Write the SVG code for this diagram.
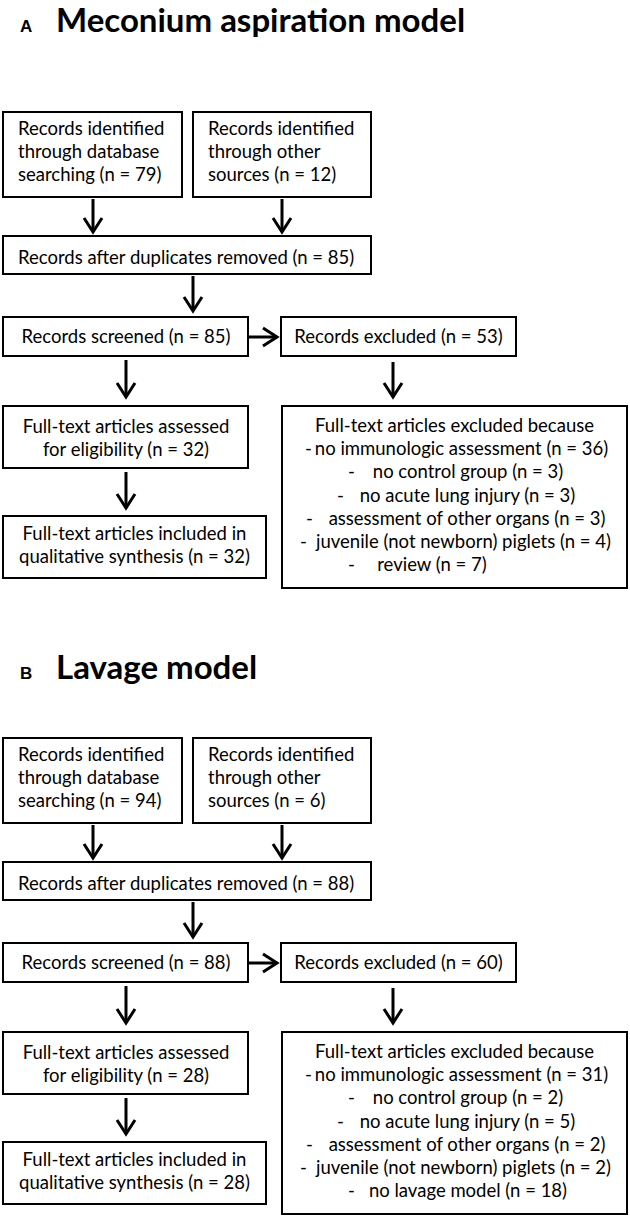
<svg xmlns="http://www.w3.org/2000/svg" width="630" height="1217" viewBox="0 0 630 1217">
<style>
.bg{fill:#ffffff}
.box{fill:#ffffff;stroke:#000;stroke-width:2}
.t{font-family:Lato,"Open Sans",sans-serif;font-size:18.5px;fill:#000}
.m{text-anchor:middle}
.h{font-family:Lato,"Open Sans",sans-serif;font-size:33px;font-weight:bold;fill:#000}
.lab{font-family:"Liberation Sans",Arial,sans-serif;font-size:17px;font-weight:bold;fill:#000}
.arr{fill:none;stroke:#000;stroke-width:3;marker-end:url(#ah)}
</style>
<defs>
<marker id="ah" markerUnits="userSpaceOnUse" viewBox="0 0 22 22" markerWidth="22" markerHeight="22" refX="17" refY="11" orient="auto">
<path d="M3,2 L17,11 L3,20" fill="none" stroke="#000" stroke-width="3" stroke-linejoin="miter"/>
</marker>
</defs>
<rect class="bg" x="0" y="0" width="630" height="1217"/>

<g id="headingA">
<text class="lab" x="20" y="32">A</text>
<text class="h" x="56" y="32">Meconium aspiration model</text>
</g>

<g id="A_db">
<rect class="box" x="3" y="112" width="179" height="85"/>
<text class="t" x="18" y="135">Records identified</text>
<text class="t" x="18" y="158">through database</text>
<text class="t" x="18" y="181">searching (n = 79)</text>
</g>
<g id="A_other">
<rect class="box" x="193" y="112" width="178" height="85"/>
<text class="t" x="208" y="135">Records identified</text>
<text class="t" x="208" y="158">through other</text>
<text class="t" x="208" y="181">sources (n = 12)</text>
</g>
<g id="A_dup">
<rect class="box" x="3" y="236" width="368" height="38"/>
<text class="t" x="18" y="264">Records after duplicates removed (n = 85)</text>
</g>
<g id="A_screened">
<rect class="box" x="3" y="317" width="245" height="39"/>
<text class="t m" x="126" y="343">Records screened (n = 85)</text>
</g>
<g id="A_excluded">
<rect class="box" x="281" y="317" width="235" height="39"/>
<text class="t m" x="398.5" y="343">Records excluded (n = 53)</text>
</g>
<g id="A_assessed">
<rect class="box" x="3" y="406" width="245" height="62"/>
<text class="t m" x="126" y="433">Full-text articles assessed</text>
<text class="t m" x="126" y="456">for eligibility (n = 32)</text>
</g>
<g id="A_included">
<rect class="box" x="3" y="516" width="263" height="62"/>
<text class="t m" x="134.5" y="540">Full-text articles included in</text>
<text class="t m" x="134.5" y="563">qualitative synthesis (n = 32)</text>
</g>
<g id="A_ftexcluded">
<rect class="box" x="282" y="406" width="345" height="182"/>
<text class="t m" x="454.5" y="432">Full-text articles excluded because</text>
<text class="t" x="305" y="455">-</text><text class="t m" x="461.5" y="455">no immunologic assessment (n = 36)</text>
<text class="t" x="348" y="478">-</text><text class="t m" x="468" y="478">no control group (n = 3)</text>
<text class="t" x="337" y="502">-</text><text class="t m" x="467.5" y="502">no acute lung injury (n = 3)</text>
<text class="t" x="306" y="525">-</text><text class="t m" x="467" y="525">assessment of other organs (n = 3)</text>
<text class="t" x="300" y="548">-</text><text class="t m" x="463.5" y="548">juvenile (not newborn) piglets (n = 4)</text>
<text class="t" x="348" y="571">-</text><text class="t m" x="432" y="571">review (n = 7)</text>
</g>

<g id="headingB">
<text class="lab" x="20" y="679">B</text>
<text class="h" x="56" y="679">Lavage model</text>
</g>

<g id="B_db">
<rect class="box" x="3" y="738" width="179" height="85"/>
<text class="t" x="18" y="761">Records identified</text>
<text class="t" x="18" y="784">through database</text>
<text class="t" x="18" y="807">searching (n = 94)</text>
</g>
<g id="B_other">
<rect class="box" x="193" y="738" width="178" height="85"/>
<text class="t" x="208" y="761">Records identified</text>
<text class="t" x="208" y="784">through other</text>
<text class="t" x="208" y="807">sources (n = 6)</text>
</g>
<g id="B_dup">
<rect class="box" x="3" y="862" width="368" height="38"/>
<text class="t" x="18" y="890">Records after duplicates removed (n = 88)</text>
</g>
<g id="B_screened">
<rect class="box" x="3" y="943" width="245" height="39"/>
<text class="t m" x="126" y="969">Records screened (n = 88)</text>
</g>
<g id="B_excluded">
<rect class="box" x="281" y="943" width="235" height="39"/>
<text class="t m" x="398.5" y="969">Records excluded (n = 60)</text>
</g>
<g id="B_assessed">
<rect class="box" x="3" y="1032" width="245" height="62"/>
<text class="t m" x="126" y="1059">Full-text articles assessed</text>
<text class="t m" x="126" y="1082">for eligibility (n = 28)</text>
</g>
<g id="B_included">
<rect class="box" x="3" y="1142" width="263" height="62"/>
<text class="t m" x="134.5" y="1166">Full-text articles included in</text>
<text class="t m" x="134.5" y="1189">qualitative synthesis (n = 28)</text>
</g>
<g id="B_ftexcluded">
<rect class="box" x="282" y="1032" width="345" height="182"/>
<text class="t m" x="454.5" y="1058">Full-text articles excluded because</text>
<text class="t" x="305" y="1081">-</text><text class="t m" x="461.5" y="1081">no immunologic assessment (n = 31)</text>
<text class="t" x="348" y="1104">-</text><text class="t m" x="468" y="1104">no control group (n = 2)</text>
<text class="t" x="337" y="1128">-</text><text class="t m" x="467.5" y="1128">no acute lung injury (n = 5)</text>
<text class="t" x="306" y="1151">-</text><text class="t m" x="467" y="1151">assessment of other organs (n = 2)</text>
<text class="t" x="300" y="1174">-</text><text class="t m" x="463.5" y="1174">juvenile (not newborn) piglets (n = 2)</text>
<text class="t" x="348" y="1197">-</text><text class="t m" x="468" y="1197">no lavage model (n = 18)</text>
</g>

<g id="connectors">
<path class="arr" d="M93,199 V232"/>
<path class="arr" d="M282,199 V232"/>
<path class="arr" d="M193,276 V311"/>
<path class="arr" d="M249,337 H277"/>
<path class="arr" d="M126,360 V397"/>
<path class="arr" d="M393,362 V397"/>
<path class="arr" d="M126,472 V508"/>
<path class="arr" d="M93,825 V858"/>
<path class="arr" d="M282,825 V858"/>
<path class="arr" d="M193,902 V937"/>
<path class="arr" d="M249,963 H277"/>
<path class="arr" d="M126,986 V1023"/>
<path class="arr" d="M393,988 V1023"/>
<path class="arr" d="M126,1098 V1134"/>
</g>
</svg>
